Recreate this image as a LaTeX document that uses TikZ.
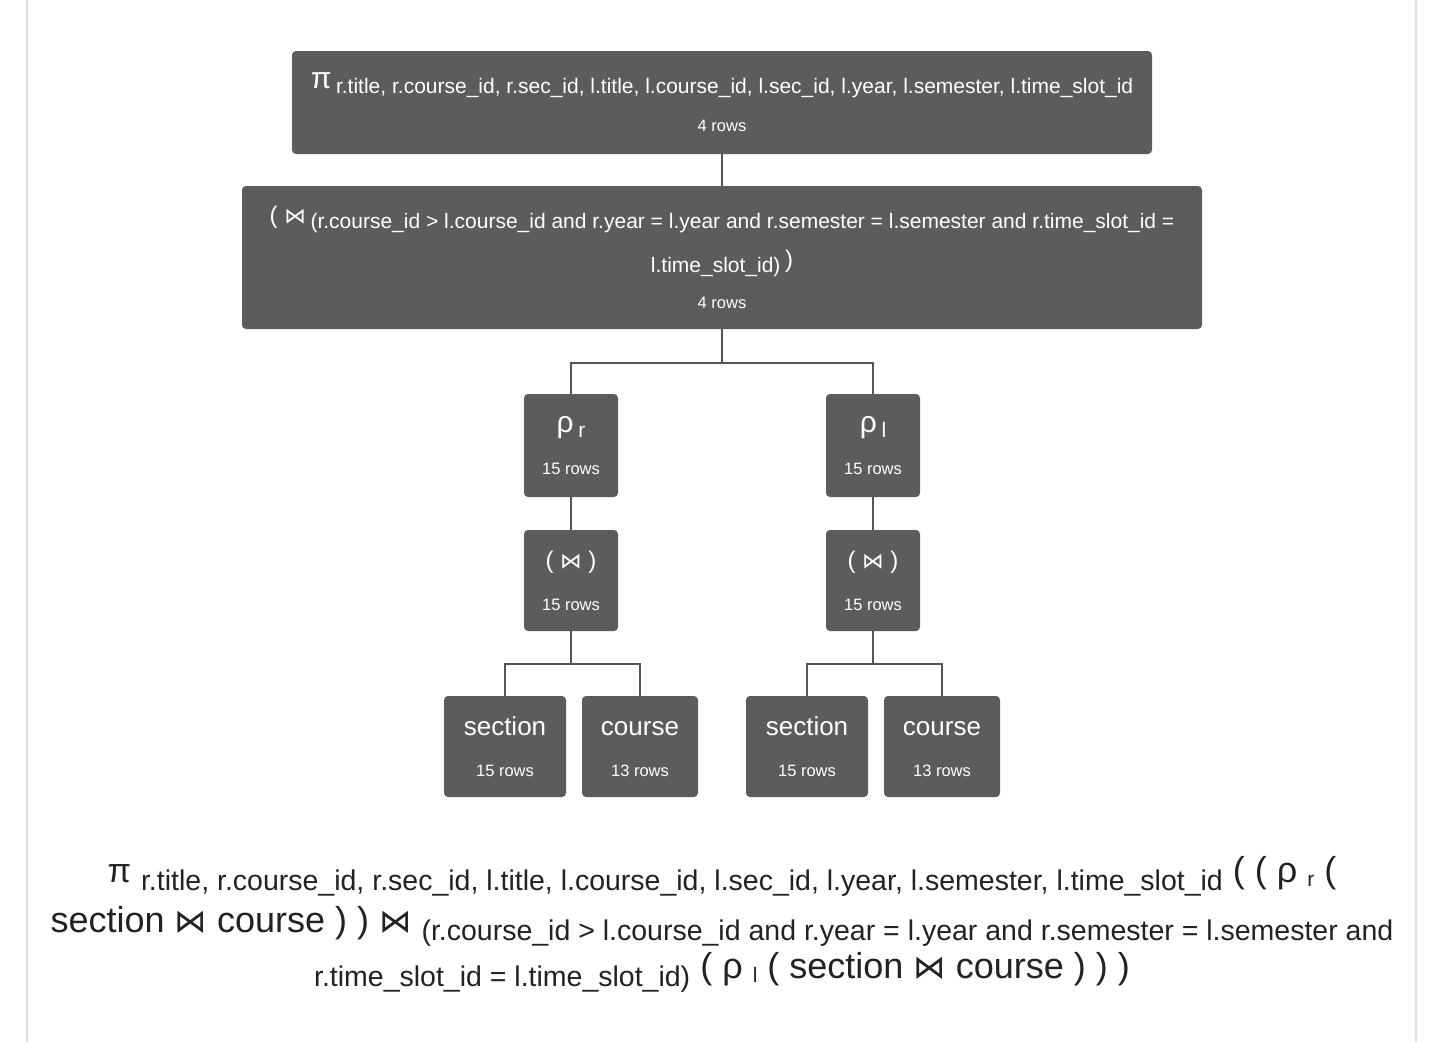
\documentclass[tikz,border=0pt]{standalone}
\usepackage{fontspec}
\setmainfont{Liberation Sans}
\newfontfamily\symfont{DejaVu Sans}
\usepackage{xcolor}
\usepackage{graphicx}

\definecolor{opgray}{RGB}{92,92,92}
\definecolor{wiregray}{RGB}{85,85,85}
\definecolor{framegray}{RGB}{221,221,221}
\definecolor{exprtext}{RGB}{34,34,34}

\newcommand{\rowsize}{\fontsize{16.5}{20}\selectfont}
\newcommand{\boxop}[1]{{\fontsize{24}{28}\selectfont #1}}
\newcommand{\boxgreek}[1]{{\fontsize{30}{34}\selectfont #1}}
\newcommand{\boxsub}[1]{\raisebox{-5pt}{\fontsize{21}{25}\selectfont #1}}
\newcommand{\leafname}[1]{{\fontsize{26}{30}\selectfont\vphantom{(}#1}}
\newcommand{\exprop}[1]{{\fontsize{34}{38}\selectfont #1}}
\newcommand{\exprsub}[1]{\raisebox{-8pt}{\fontsize{28.5}{34}\selectfont #1}}
\newcommand{\exprrel}[1]{\raisebox{-4pt}{\fontsize{21}{25}\selectfont #1}}
\newcommand{\jn}{{\symfont\scalebox{0.9}{⋈}}}

\begin{document}
\begin{tikzpicture}[
    x=1pt, y=-1pt,
    font=\rowsize,
    opbox/.style={
      fill=opgray,
      rounded corners=4pt,
      text=white,
      align=center,
      inner sep=0pt
    },
    leaf/.style={
      opbox,
      minimum height=101pt
    },
    wire/.style={
      draw=wiregray,
      line width=1.5pt
    },
    frame/.style={
      draw=framegray,
      line width=2pt
    },
    expr/.style={
      align=center,
      text=exprtext,
      inner sep=0pt,
      font=\fontsize{36}{44}\selectfont
    }
  ]

    \useasboundingbox (0,0) rectangle (1440,1042);

    % Panel edges
    \draw[frame] (27,0) -- (27,1042);
    \draw[frame] (1416,0) -- (1416,1042);

    % Operator tree
    \node[opbox, minimum width=860pt, minimum height=103pt] (proj) at (722,102.5)
      {\boxgreek{π}\ \boxsub{r.title, r.course\_id, r.sec\_id, l.title, l.course\_id, l.sec\_id, l.year, l.semester, l.time\_slot\_id}\\[21pt]4 rows};
    \node[opbox, minimum width=960pt, minimum height=143pt] (join) at (722,257.5)
      {\boxop{( \jn}\ \boxsub{(r.course\_id > l.course\_id and r.year = l.year and r.semester = l.semester and r.time\_slot\_id =}\\[16pt]\boxsub{l.time\_slot\_id)}\ \boxop{)}\\[20pt]4 rows};

    \node[opbox, minimum width=94pt, minimum height=103pt] (rhor) at (571,445.5)
      {\boxgreek{ρ}\ \boxsub{r}\\[22pt]15 rows};
    \node[opbox, minimum width=94pt, minimum height=103pt] (rhol) at (873,445.5)
      {\boxgreek{ρ}\ \boxsub{l}\\[22pt]15 rows};

    \node[opbox, minimum width=94pt, minimum height=101pt] (joinr) at (571,580.5)
      {\boxop{( \jn\ )}\\[22pt]15 rows};
    \node[opbox, minimum width=94pt, minimum height=101pt] (joinl) at (873,580.5)
      {\boxop{( \jn\ )}\\[22pt]15 rows};

    % Base relations
    \node[leaf, minimum width=122pt] (sectionr) at (505,746.5) {\leafname{section}\\[21pt]15 rows};
    \node[leaf, minimum width=116pt] (courser) at (640,746.5) {\leafname{course}\\[21pt]13 rows};
    \node[leaf, minimum width=122pt] (sectionl) at (807,746.5) {\leafname{section}\\[21pt]15 rows};
    \node[leaf, minimum width=116pt] (coursel) at (942,746.5) {\leafname{course}\\[21pt]13 rows};

    % Wires
    \coordinate (forkj) at (722,363);
    \coordinate (forkr) at (571,664);
    \coordinate (forkl) at (873,664);

    \draw[wire] (proj) -- (join);
    \draw[wire] (join.south) -- (forkj) -| (rhor.north);
    \draw[wire] (forkj) -| (rhol.north);
    \draw[wire] (rhor) -- (joinr);
    \draw[wire] (rhol) -- (joinl);
    \draw[wire] (joinr.south) -- (forkr) -| (sectionr.north);
    \draw[wire] (forkr) -| (courser.north);
    \draw[wire] (joinl.south) -- (forkl) -| (sectionl.north);
    \draw[wire] (forkl) -| (coursel.north);

    % Expression
    \node[expr] (exprtext) at (722,924)
      {\exprop{π}\ \exprsub{r.title, r.course\_id, r.sec\_id, l.title, l.course\_id, l.sec\_id, l.year, l.semester, l.time\_slot\_id} ( ( ρ\ \exprrel{r} (\\[6pt]
       section \jn\ course ) ) \jn\ \exprsub{(r.course\_id > l.course\_id and r.year = l.year and r.semester = l.semester and}\\[2pt]
       \exprsub{r.time\_slot\_id = l.time\_slot\_id)} ( ρ\ \exprrel{l} ( section \jn\ course ) ) )};

  \end{tikzpicture}
\end{document}
